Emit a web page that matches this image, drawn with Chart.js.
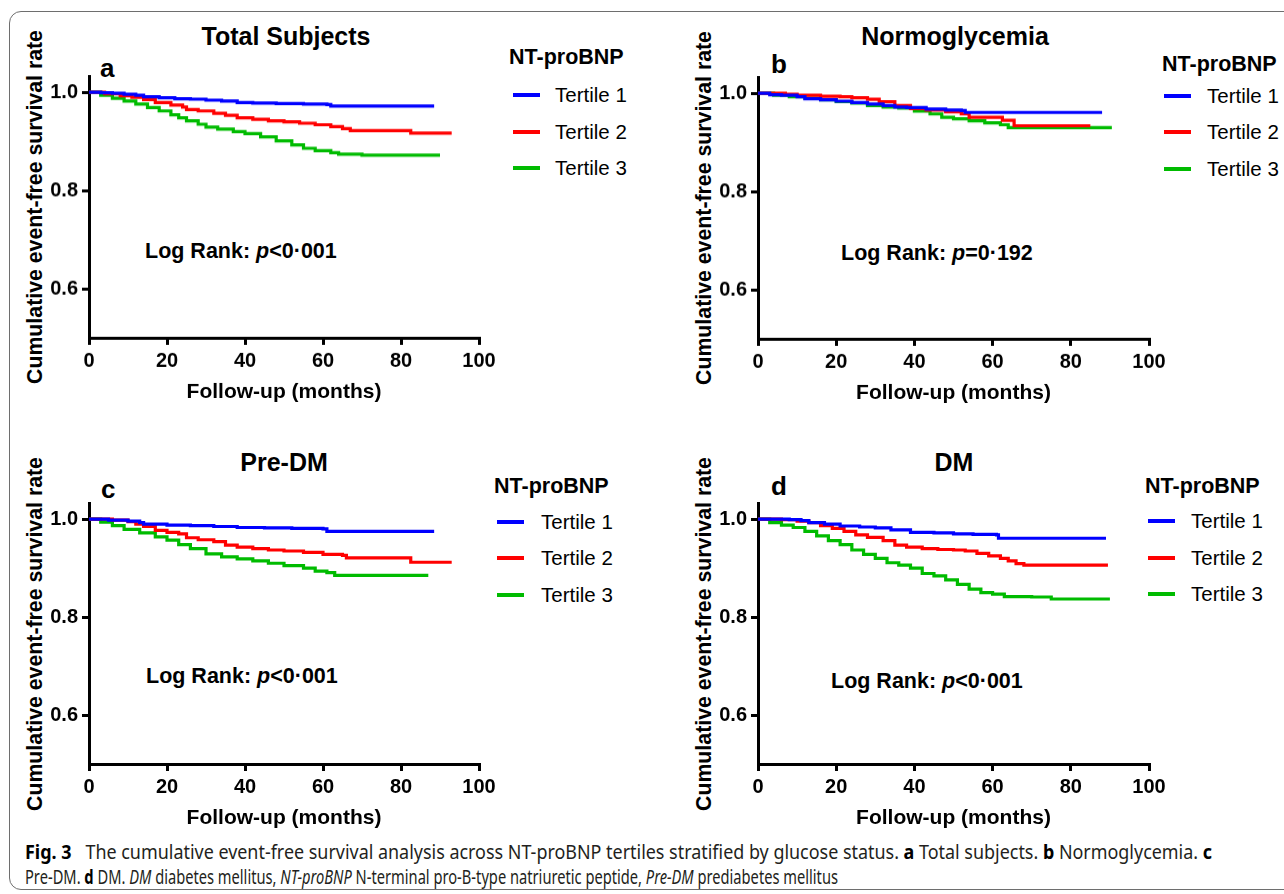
<!DOCTYPE html>
<html>
<head>
<meta charset="utf-8">
<script src="https://cdn.jsdelivr.net/npm/chart.js@4.4.1/dist/chart.umd.min.js"></script>
<style>
  html, body { margin: 0; padding: 0; background: #fff; }
  body { width: 1284px; height: 894px; position: relative; overflow: hidden; font-family: "Liberation Sans", Arial, sans-serif; color: #000; }
  .frame { position: absolute; left: 9px; top: 11px; width: 1320px; height: 879px; border: 1.5px solid #6e6e6e; border-radius: 12px; box-sizing: border-box; }
  canvas { position: absolute; }
  .t { position: absolute; line-height: 1; white-space: nowrap; transform: translateY(-50%); }
  .c { transform: translate(-50%, -50%); }
  .ytitle { position: absolute; line-height: 1; white-space: nowrap; font-size: 21.3px; font-weight: bold; transform: translate(-50%, -50%) rotate(-90deg); }
  .title { font-size: 25px; font-weight: bold; }
  .letter { font-size: 26px; font-weight: bold; }
  .lhead { font-size: 21.5px; font-weight: bold; }
  .litem { font-size: 20.5px; }
  .logrank { font-size: 21.5px; font-weight: bold; }
  .swatch { position: absolute; height: 4px; width: 27px; transform: translateY(-50%); }
  .cap { position: absolute; left: 25px; font-family: "Noto Sans", "Open Sans", sans-serif; font-size: 20px; color: #231f20; white-space: nowrap; line-height: 1; transform-origin: left center; }
  .cap b { color: #000; }
</style>
</head>
<body>
<div class="frame"></div>

<!-- panel a -->
<div class="t c title" style="left:286px; top:36px;">Total Subjects</div>
<div class="t letter" style="left:100px; top:68px;">a</div>
<div class="ytitle" style="left:36px; top:207px;">Cumulative event-free survival rate</div>
<div class="t lhead" style="left:509px; top:58px;">NT-proBNP</div>
<div class="swatch" style="left:513px; top:95px; background:#0000ff;"></div>
<div class="swatch" style="left:513px; top:132px; background:#ff0000;"></div>
<div class="swatch" style="left:513px; top:168px; background:#00bb00;"></div>
<div class="t litem" style="left:555px; top:95px;">Tertile 1</div>
<div class="t litem" style="left:555px; top:132px;">Tertile 2</div>
<div class="t litem" style="left:555px; top:168px;">Tertile 3</div>
<div class="t logrank" style="left:145px; top:252px;">Log Rank: <i>p</i>&lt;0·001</div>

<!-- panel b -->
<div class="t c title" style="left:955px; top:36px;">Normoglycemia</div>
<div class="t letter" style="left:771px; top:64px;">b</div>
<div class="ytitle" style="left:705px; top:208px;">Cumulative event-free survival rate</div>
<div class="t lhead" style="left:1162px; top:65px;">NT-proBNP</div>
<div class="swatch" style="left:1164px; top:96px; background:#0000ff;"></div>
<div class="swatch" style="left:1164px; top:132px; background:#ff0000;"></div>
<div class="swatch" style="left:1164px; top:169px; background:#00bb00;"></div>
<div class="t litem" style="left:1207px; top:96px;">Tertile 1</div>
<div class="t litem" style="left:1207px; top:132px;">Tertile 2</div>
<div class="t litem" style="left:1207px; top:169px;">Tertile 3</div>
<div class="t logrank" style="left:841px; top:254px;">Log Rank: <i>p</i>=0·192</div>

<!-- panel c -->
<div class="t c title" style="left:284px; top:462px;">Pre-DM</div>
<div class="t letter" style="left:101px; top:489px;">c</div>
<div class="ytitle" style="left:36px; top:634px;">Cumulative event-free survival rate</div>
<div class="t lhead" style="left:494px; top:487px;">NT-proBNP</div>
<div class="swatch" style="left:497px; top:522px; background:#0000ff;"></div>
<div class="swatch" style="left:497px; top:558px; background:#ff0000;"></div>
<div class="swatch" style="left:497px; top:595px; background:#00bb00;"></div>
<div class="t litem" style="left:541px; top:522px;">Tertile 1</div>
<div class="t litem" style="left:541px; top:558px;">Tertile 2</div>
<div class="t litem" style="left:541px; top:595px;">Tertile 3</div>
<div class="t logrank" style="left:146px; top:677px;">Log Rank: <i>p</i>&lt;0·001</div>

<!-- panel d -->
<div class="t c title" style="left:954px; top:462px;">DM</div>
<div class="t letter" style="left:771px; top:486px;">d</div>
<div class="ytitle" style="left:705px; top:634px;">Cumulative event-free survival rate</div>
<div class="t lhead" style="left:1145px; top:487px;">NT-proBNP</div>
<div class="swatch" style="left:1148px; top:521px; background:#0000ff;"></div>
<div class="swatch" style="left:1148px; top:558px; background:#ff0000;"></div>
<div class="swatch" style="left:1148px; top:594px; background:#00bb00;"></div>
<div class="t litem" style="left:1191px; top:521px;">Tertile 1</div>
<div class="t litem" style="left:1191px; top:558px;">Tertile 2</div>
<div class="t litem" style="left:1191px; top:594px;">Tertile 3</div>
<div class="t logrank" style="left:831px; top:682px;">Log Rank: <i>p</i>&lt;0·001</div>

<div class="cap" id="cap1" style="top:842px;"><b>Fig. 3</b>&nbsp;&nbsp; The cumulative event-free survival analysis across NT-proBNP tertiles stratified by glucose status. <b>a</b> Total subjects. <b>b</b> Normoglycemia. <b>c</b></div>
<div class="cap" id="cap2" style="top:867px;">Pre-DM. <b>d</b> DM. <i>DM</i> diabetes mellitus, <i>NT-proBNP</i> N-terminal pro-B-type natriuretic peptide, <i>Pre-DM</i> prediabetes mellitus</div>

<script>
// tick values
const monthTicks = [0, 20, 40, 60, 80, 100];
const survTicks = [0.6, 0.8, 1.0];
const tertiles = ["Tertile 1", "Tertile 2", "Tertile 3"];

// [month, survival]
// a: total subjects
const totalT1 = [[0,1],[3,0.999],[6,0.998],[9,0.996],[12,0.994],[14,0.991],[18,0.989],[22,0.987],[26,0.986],[30,0.984],[34,0.982],[38,0.979],[42,0.978],[48,0.977],[55,0.976],[61,0.975],[62,0.972],[88.5,0.972]];
const totalT2 = [[0,1],[4,0.997],[8,0.993],[11,0.99],[14,0.985],[17,0.979],[21,0.974],[24,0.97],[25,0.965],[28,0.962],[32,0.957],[35,0.953],[38,0.948],[42,0.945],[46,0.942],[50,0.94],[54,0.937],[58,0.934],[62,0.93],[65,0.926],[67,0.922],[82,0.922],[82.5,0.917],[93,0.917]];
const totalT3 = [[0,1],[3,0.994],[6,0.988],[9,0.982],[12,0.976],[15,0.969],[18,0.962],[21,0.954],[23,0.948],[25,0.942],[28,0.935],[30,0.929],[33,0.925],[37,0.92],[40,0.916],[44,0.909],[48,0.901],[52,0.893],[55,0.886],[58,0.881],[62,0.877],[64,0.874],[70,0.872],[90,0.872]];
// b: normoglycemia
const normoT1 = [[0,1],[3,0.997],[6,0.996],[10,0.993],[12,0.989],[16,0.987],[20,0.984],[24,0.981],[28,0.978],[32,0.975],[35,0.972],[38,0.971],[43,0.968],[48,0.966],[52,0.965],[53,0.961],[88,0.961]];
const normoT2 = [[0,1],[7,0.998],[10,0.996],[16,0.994],[21,0.993],[24,0.991],[28,0.988],[31,0.983],[35,0.975],[39,0.969],[43,0.966],[48,0.962],[52,0.958],[54,0.951],[62,0.951],[62.5,0.945],[65,0.945],[65.5,0.934],[85,0.934]];
const normoT3 = [[0,1],[4,0.996],[8,0.993],[12,0.99],[16,0.987],[20,0.983],[24,0.98],[28,0.975],[32,0.972],[36,0.97],[40,0.964],[44,0.958],[47,0.951],[50,0.948],[54,0.944],[58,0.94],[62,0.936],[64,0.93],[90.5,0.93]];
// c: pre-DM
const preT1 = [[0,1],[5,0.998],[10,0.996],[13,0.993],[14,0.99],[20,0.988],[26,0.987],[32,0.985],[38,0.983],[45,0.982],[52,0.981],[60,0.98],[61,0.975],[88.5,0.975]];
const preT2 = [[0,1],[6,0.998],[10,0.995],[12,0.99],[14,0.985],[17,0.977],[20,0.973],[23,0.97],[25,0.962],[28,0.958],[32,0.954],[35,0.947],[38,0.943],[42,0.94],[46,0.937],[50,0.935],[55,0.932],[60,0.928],[65,0.926],[66,0.921],[82,0.921],[82.5,0.912],[93,0.912]];
const preT3 = [[0,1],[3,0.994],[6,0.987],[9,0.979],[13,0.972],[17,0.964],[20,0.957],[23,0.948],[26,0.94],[30,0.929],[34,0.923],[38,0.919],[42,0.915],[46,0.91],[50,0.905],[55,0.9],[58,0.894],[61,0.891],[63,0.885],[87,0.885]];
// d: DM
const dmT1 = [[0,1],[5,1],[8,0.999],[11,0.997],[13,0.993],[17,0.99],[21,0.986],[26,0.984],[30,0.982],[34,0.978],[39,0.973],[45,0.972],[50,0.97],[55,0.969],[61,0.968],[61.5,0.961],[89,0.961]];
const dmT2 = [[0,1],[6,0.999],[10,0.996],[13,0.993],[16,0.987],[19,0.981],[22,0.975],[25,0.968],[28,0.963],[32,0.956],[35,0.947],[38,0.943],[42,0.94],[46,0.938],[50,0.937],[53,0.935],[56,0.93],[59,0.925],[62,0.92],[64,0.915],[66,0.909],[68,0.906],[89.5,0.906]];
const dmT3 = [[0,1],[3,0.993],[6,0.988],[9,0.983],[12,0.975],[15,0.966],[18,0.956],[21,0.948],[24,0.937],[27,0.928],[30,0.92],[33,0.911],[36,0.906],[39,0.9],[42,0.889],[45,0.884],[48,0.876],[51,0.867],[54,0.857],[57,0.85],[60,0.847],[63,0.842],[70,0.841],[75,0.837],[90,0.837]];

const colors = ["#0000ff", "#ff0000", "#00bb00"];
const FONT = '"Liberation Sans", Arial, sans-serif';
const Y_W = 79, X_H = 71, PAD_T = 20, PAD_R = 30;

function makePanel(area, series) {
  const canvas = document.createElement("canvas");
  const w = Y_W + (area.right - area.left) + PAD_R;
  const h = PAD_T + (area.bottom - area.top) + X_H;
  canvas.width = w;
  canvas.height = h;
  canvas.style.width = w + "px";
  canvas.style.height = h + "px";
  canvas.style.left = (area.left - Y_W) + "px";
  canvas.style.top = (area.top - PAD_T) + "px";
  document.body.appendChild(canvas);

  new Chart(canvas.getContext("2d"), {
    type: "line",
    data: {
      datasets: series.map((pts, i) => ({
        label: tertiles[i],
        data: pts.map(p => ({ x: p[0], y: p[1] })),
        borderColor: colors[i],
        borderWidth: 3.2,
        pointRadius: 0,
        stepped: true,
        fill: false
      }))
    },
    options: {
      responsive: false,
      animation: false,
      devicePixelRatio: 1,
      layout: { padding: { left: 0, top: PAD_T, right: PAD_R, bottom: 0 } },
      plugins: { legend: { display: false }, tooltip: { enabled: false } },
      scales: {
        x: {
          type: "linear",
          min: 0,
          max: 100,
          afterBuildTicks: s => { s.ticks = monthTicks.map(v => ({ value: v })); },
          afterFit: s => { s.height = X_H; },
          ticks: { color: "#000", font: { family: FONT, size: 20, weight: "bold" }, padding: 4, maxRotation: 0 },
          grid: { drawOnChartArea: false, tickLength: 7, lineWidth: 3, color: "#000" },
          border: { width: 3, color: "#000" },
          title: { display: true, text: "Follow-up (months)", color: "#000",
                   font: { family: FONT, size: 21, weight: "bold" }, padding: { top: 0, bottom: 4 } }
        },
        y: {
          type: "linear",
          min: 0.5,
          max: 1.033,
          afterBuildTicks: s => { s.ticks = survTicks.map(v => ({ value: v })); },
          afterFit: s => { s.width = Y_W; },
          ticks: { color: "#000", font: { family: FONT, size: 20, weight: "bold" }, padding: 4,
                   callback: v => v.toFixed(1) },
          grid: { drawOnChartArea: false, tickLength: 7, lineWidth: 3, color: "#000" },
          border: { width: 3, color: "#000" }
        }
      }
    }
  });
}

makePanel({ left: 89, right: 479, top: 76, bottom: 337.5 }, [totalT1, totalT2, totalT3]);
makePanel({ left: 758, right: 1149, top: 77, bottom: 338.5 }, [normoT1, normoT2, normoT3]);
makePanel({ left: 89, right: 479, top: 503, bottom: 764 }, [preT1, preT2, preT3]);
makePanel({ left: 758, right: 1149, top: 503, bottom: 764 }, [dmT1, dmT2, dmT3]);

// squeeze caption lines to the printed widths
[["cap1", 1187], ["cap2", 813]].forEach(([id, target]) => {
  const el = document.getElementById(id);
  const wNow = el.getBoundingClientRect().width;
  el.style.transform = `scaleX(${target / wNow})`;
});
</script>
</body>
</html>
